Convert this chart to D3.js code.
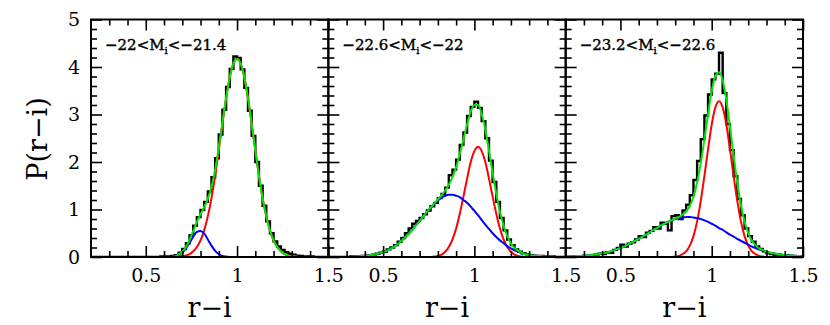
<!DOCTYPE html>
<html>
<head>
<meta charset="utf-8">
<script src="https://cdn.jsdelivr.net/npm/d3@7"></script>
<style>
body { margin: 0; background: #fff; }
</style>
</head>
<body>
<div id="chart"></div>
<script>

// colour grid (r-i), shared by all panels
let xGrid = [0.20,0.22,0.24,0.26,0.28,0.30,0.32,0.34,0.36,0.38,
  0.40,0.42,0.44,0.46,0.48,0.50,0.52,0.54,0.56,0.58,
  0.60,0.62,0.64,0.66,0.68,0.70,0.72,0.74,0.76,0.78,
  0.80,0.82,0.84,0.86,0.88,0.90,0.92,0.94,0.96,0.98,
  1.00,1.02,1.04,1.06,1.08,1.10,1.12,1.14,1.16,1.18,
  1.20,1.22,1.24,1.26,1.28,1.30,1.32,1.34,1.36,1.38,
  1.40,1.42,1.44,1.46,1.48,1.50];

let magLow = ["\u221222", "\u221222.6", "\u221223.2"];
let magHigh = ["\u221221.4", "\u221222", "\u221222.6"];

let xMajor = [0.5, 1, 1.5];
let xMinor = [0.3, 0.4, 0.6, 0.7, 0.8, 0.9, 1.1, 1.2, 1.3, 1.4];
let yMajor = [0, 1, 2, 3, 4, 5];
let yMinor = [0.2, 0.4, 0.6, 0.8, 1.2, 1.4, 1.6, 1.8, 2.2, 2.4, 2.6, 2.8,
  3.2, 3.4, 3.6, 3.8, 4.2, 4.4, 4.6, 4.8];

// histograms: one value per bin between consecutive xGrid points
let hist1 = [0,0,0,0,0,0,0,0,0,0,
  0,0,0,0,0,0,0,0,0,0.01,
  0.01,0.01,0.02,0.04,0.09,0.17,0.29,0.46,0.66,0.84,
  0.99,1.16,1.38,1.68,2.08,2.58,3.10,3.58,3.96,4.22,
  4.19,3.95,3.56,3.08,2.55,2.00,1.50,1.08,0.75,0.50,
  0.33,0.22,0.15,0.10,0.07,0.05,0.03,0.02,0.01,0.01,
  0.01,0,0,0,0];
let hist2 = [0,0,0,0,0,0,0.01,0.01,0.01,0.02,
  0.03,0.03,0.05,0.07,0.09,0.11,0.16,0.20,0.25,0.32,
  0.40,0.50,0.60,0.70,0.76,0.82,0.90,0.98,1.07,1.14,
  1.24,1.33,1.46,1.72,1.84,2.05,2.36,2.62,2.97,3.16,
  3.27,3.14,2.86,2.50,2.03,1.58,1.16,0.82,0.56,0.37,
  0.25,0.16,0.11,0.08,0.06,0.04,0.03,0.02,0.02,0.01,
  0.01,0.01,0,0,0];
let hist3 = [0,0,0.01,0.01,0.01,0.02,0.02,0.04,0.05,0.07,
  0.06,0.10,0.09,0.15,0.19,0.26,0.22,0.28,0.31,0.37,
  0.44,0.42,0.51,0.55,0.63,0.60,0.72,0.70,0.56,0.86,
  0.88,0.80,0.98,1.10,1.30,1.62,2.02,2.48,2.98,3.42,
  3.74,3.86,4.30,3.45,2.80,2.25,1.70,1.22,0.88,0.60,
  0.44,0.32,0.22,0.17,0.12,0.08,0.06,0.04,0.05,0.03,
  0.04,0.02,0.02,0.01,0.01];

// red sequence fits
let red1 = [0,0,0,0,0,0,0,0,0,0,
  0,0,0,0,0,0,0,0,0,0,
  0,0,0,0,0.01,0.02,0.03,0.06,0.12,0.21,
  0.35,0.56,0.86,1.24,1.71,2.25,2.81,3.34,3.78,4.07,
  4.17,4.07,3.78,3.34,2.81,2.25,1.71,1.24,0.86,0.56,
  0.35,0.21,0.12,0.06,0.03,0.02,0.01,0,0,0,
  0,0,0,0,0,0];
let red2 = [0,0,0,0,0,0,0,0,0,0,
  0,0,0,0,0,0,0,0,0,0,
  0,0,0,0,0,0,0,0,0,0.01,
  0.02,0.05,0.11,0.21,0.37,0.60,0.91,1.27,1.65,2.00,
  2.23,2.32,2.23,2.00,1.65,1.27,0.91,0.60,0.37,0.21,
  0.11,0.05,0.02,0.01,0,0,0,0,0,0,
  0,0,0,0,0,0];
let red3 = [0,0,0,0,0,0,0,0,0,0,
  0,0,0,0,0,0,0,0,0,0,
  0,0,0,0,0,0,0,0,0,0,
  0.01,0.02,0.06,0.12,0.24,0.44,0.75,1.18,1.71,2.27,
  2.79,3.15,3.28,3.15,2.79,2.27,1.71,1.18,0.75,0.44,
  0.24,0.12,0.06,0.02,0.01,0,0,0,0,0,
  0,0,0,0,0,0];

// blue cloud fits
let blue1 = [0,0,0,0,0,0,0,0,0,0,
  0,0,0,0,0,0,0,0,0,0,
  0,0,0,0.01,0.04,0.09,0.18,0.30,0.43,0.53,
  0.55,0.49,0.37,0.24,0.13,0.06,0.02,0.01,0,0,
  0,0,0,0,0,0,0,0,0,0,
  0,0,0,0,0,0,0,0,0,0,
  0,0,0,0,0,0];
let blue2 = [0,0,0,0,0,0,0,0.01,0.01,0.02,
  0.02,0.03,0.04,0.06,0.08,0.10,0.13,0.17,0.22,0.27,
  0.34,0.41,0.49,0.57,0.67,0.76,0.86,0.95,1.04,1.12,
  1.19,1.25,1.29,1.31,1.31,1.29,1.26,1.20,1.14,1.06,
  0.97,0.88,0.78,0.68,0.59,0.50,0.42,0.35,0.29,0.23,
  0.18,0.14,0.11,0.08,0.06,0.05,0.03,0.02,0.02,0.01,
  0.01,0.01,0,0,0,0];
let blue3 = [0.01,0.01,0.01,0.02,0.02,0.03,0.03,0.04,0.05,0.06,
  0.08,0.09,0.11,0.14,0.16,0.19,0.22,0.26,0.30,0.34,
  0.38,0.43,0.47,0.52,0.57,0.61,0.66,0.70,0.74,0.77,
  0.80,0.82,0.83,0.84,0.84,0.83,0.82,0.80,0.77,0.74,
  0.70,0.66,0.61,0.57,0.52,0.47,0.43,0.38,0.34,0.30,
  0.26,0.22,0.19,0.16,0.14,0.11,0.09,0.08,0.06,0.05,
  0.04,0.03,0.03,0.02,0.02,0.01];

// total fits
let green1 = [0,0,0,0,0,0,0,0,0,0,
  0,0,0,0,0,0,0,0,0,0,
  0,0,0,0.01,0.05,0.11,0.21,0.36,0.55,0.74,
  0.90,1.05,1.23,1.48,1.84,2.31,2.83,3.35,3.78,4.07,
  4.17,4.07,3.78,3.34,2.81,2.25,1.71,1.24,0.86,0.56,
  0.35,0.21,0.12,0.06,0.03,0.02,0.01,0,0,0,
  0,0,0,0,0,0];
let green2 = [0,0,0,0,0,0,0,0.01,0.01,0.02,
  0.02,0.03,0.04,0.06,0.08,0.10,0.13,0.17,0.22,0.27,
  0.34,0.41,0.49,0.57,0.67,0.76,0.86,0.95,1.04,1.13,
  1.21,1.30,1.40,1.52,1.68,1.89,2.17,2.47,2.79,3.06,
  3.20,3.20,3.01,2.68,2.24,1.77,1.33,0.95,0.66,0.44,
  0.29,0.19,0.13,0.09,0.06,0.05,0.03,0.02,0.02,0.01,
  0.01,0.01,0,0,0,0];
let green3 = [0.01,0.01,0.01,0.02,0.02,0.03,0.03,0.04,0.05,0.06,
  0.08,0.09,0.11,0.14,0.16,0.19,0.22,0.26,0.30,0.34,
  0.38,0.43,0.47,0.52,0.57,0.61,0.66,0.70,0.74,0.77,
  0.81,0.84,0.89,0.96,1.08,1.27,1.57,1.98,2.48,3.01,
  3.49,3.81,3.89,3.72,3.31,2.74,2.14,1.56,1.09,0.74,
  0.50,0.34,0.25,0.18,0.15,0.11,0.09,0.08,0.06,0.05,
  0.04,0.03,0.03,0.02,0.02,0.01];

let panels = [
  {hist: hist1, red: red1, blue: blue1, green: green1},
  {hist: hist2, red: red2, blue: blue2, green: green2},
  {hist: hist3, red: red3, blue: blue3, green: green3}
];

let width = 830, height = 325;
let plotLeft = 91, plotRight = 803, plotTop = 19.5, plotBottom = 257;
let panelW = (plotRight - plotLeft) / 3;
let serif = "'DejaVu Serif', serif";

let svg = d3.select("#chart")
  .append("svg")
  .attr("width", width)
  .attr("height", height);

let y = d3.scaleLinear().domain([0, 5]).range([plotBottom, plotTop]);

panels.forEach(function(p, i) {
  let x0 = plotLeft + i * panelW;
  let x = d3.scaleLinear().domain([0.2, 1.5]).range([x0, x0 + panelW]);

  let g = svg.append("g");

  svg.append("clipPath")
    .attr("id", "clip" + i)
    .append("rect")
    .attr("x", x0).attr("y", plotTop)
    .attr("width", panelW).attr("height", plotBottom - plotTop);

  let data = g.append("g").attr("clip-path", "url(#clip" + i + ")");

  // histogram as steps
  let steps = p.hist.map((v, k) => [xGrid[k], v]);
  steps.push([xGrid[xGrid.length - 1], p.hist[p.hist.length - 1]]);
  let stepLine = d3.line()
    .x(d => x(d[0]))
    .y(d => y(d[1]))
    .curve(d3.curveStepAfter);
  data.append("path")
    .attr("d", stepLine(steps))
    .attr("fill", "none")
    .attr("stroke", "black")
    .attr("stroke-width", 2.4);

  let curve = d3.line()
    .x((d, k) => x(xGrid[k]))
    .y(d => y(d))
    .curve(d3.curveMonotoneX);

  [["red", "#ff0000"], ["blue", "#0000ff"], ["green", "#00e600"]].forEach(function(c) {
    data.append("path")
      .attr("d", curve(p[c[0]]))
      .attr("fill", "none")
      .attr("stroke", c[1])
      .attr("stroke-width", 2);
  });

  // ticks, all pointing inward
  function ticks(axis, transform) {
    let a = g.append("g").attr("transform", transform).call(axis);
    a.select(".domain").remove();
    a.selectAll("line").attr("stroke-width", 1.6);
    return a;
  }
  ticks(d3.axisBottom(x).tickValues(xMinor).tickSize(-6).tickFormat(""), "translate(0," + plotBottom + ")");
  ticks(d3.axisTop(x).tickValues(xMinor).tickSize(-6).tickFormat(""), "translate(0," + plotTop + ")");
  ticks(d3.axisTop(x).tickValues(xMajor).tickSize(-11).tickFormat(""), "translate(0," + plotTop + ")");
  let xb = ticks(d3.axisBottom(x).tickValues(xMajor).tickSize(-11).tickPadding(12)
    .tickFormat(d3.format("")), "translate(0," + plotBottom + ")");
  xb.selectAll("text")
    .attr("fill", "black")
    .style("font-family", serif)
    .style("font-size", "19px");

  ticks(d3.axisLeft(y).tickValues(yMinor).tickSize(-6).tickFormat(""), "translate(" + x0 + ",0)");
  ticks(d3.axisRight(y).tickValues(yMinor).tickSize(-6).tickFormat(""), "translate(" + (x0 + panelW) + ",0)");
  ticks(d3.axisRight(y).tickValues(yMajor).tickSize(-11).tickFormat(""), "translate(" + (x0 + panelW) + ",0)");
  let yl = ticks(d3.axisLeft(y).tickValues(yMajor).tickSize(-11).tickPadding(11)
    .tickFormat(i == 0 ? d3.format("d") : ""), "translate(" + x0 + ",0)");
  yl.selectAll("text")
    .attr("fill", "black")
    .style("font-family", serif)
    .style("font-size", "19px");

  // frame
  g.append("rect")
    .attr("x", x0).attr("y", plotTop)
    .attr("width", panelW).attr("height", plotBottom - plotTop)
    .attr("fill", "none")
    .attr("stroke", "black")
    .attr("stroke-width", 2);

  // magnitude range label
  let lab = g.append("text")
    .attr("x", x0 + 14)
    .attr("y", 50)
    .style("font-family", serif)
    .style("font-size", "15px")
    .attr("fill", "black")
    .attr("stroke", "black")
    .attr("stroke-width", 0.4);
  lab.append("tspan").text(magLow[i] + "<M");
  lab.append("tspan").attr("dy", 4).style("font-size", "10px").text("i");
  lab.append("tspan").attr("dy", -4).text("<" + magHigh[i]);

  // x title
  g.append("text")
    .attr("x", x0 + panelW / 2)
    .attr("y", 317)
    .attr("text-anchor", "middle")
    .style("font-family", serif)
    .style("font-size", "27px")
    .text("r\u2212i");
});

svg.append("text")
  .attr("transform", "translate(47,139) rotate(-90)")
  .attr("text-anchor", "middle")
  .style("font-family", serif)
  .style("font-size", "27px")
  .text("P(r\u2212i)");

</script>
</body>
</html>
